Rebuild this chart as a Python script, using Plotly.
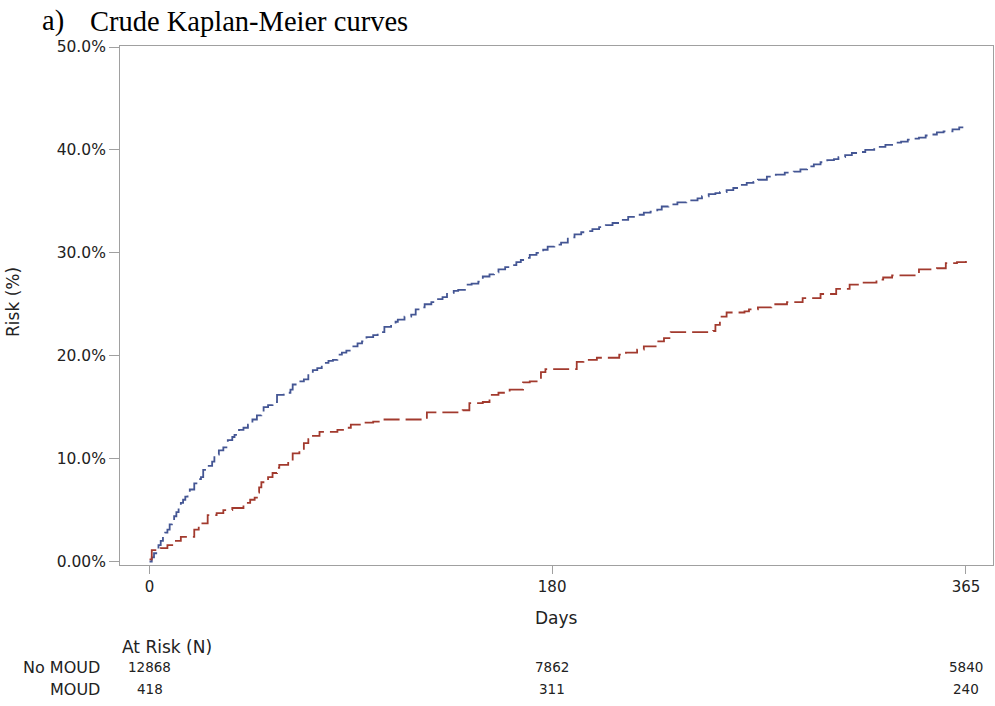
import plotly.graph_objects as go

# Kaplan-Meier cumulative risk (%), step points (day, risk)
no_moud_days = [0, 1, 2, 3, 4, 5, 6, 7, 8, 9, 10, 11, 12, 13, 14, 15, 16, 17, 18, 20, 22, 23, 24, 26, 28,
                29, 31, 33, 35, 37, 38, 40, 42, 44, 46, 48, 50, 51, 53, 55, 57, 60, 63, 64, 67, 69, 71,
                73, 75, 77, 80, 82, 84, 86, 88, 90, 93, 95, 97, 100, 102, 105, 108, 110, 111, 114, 117,
                119, 121, 123, 126, 129, 131, 133, 136, 138, 141, 144, 147, 149, 152, 154, 156, 159, 162,
                164, 166, 168, 170, 173, 176, 178, 181, 184, 187, 190, 193, 195, 198, 201, 204, 207, 210,
                211, 214, 217, 221, 224, 227, 229, 232, 236, 240, 245, 247, 250, 253, 255, 258, 261, 264,
                267, 270, 272, 276, 280, 284, 288, 291, 294, 297, 300, 303, 306, 308, 311, 314, 317, 320,
                324, 326, 329, 332, 336, 339, 341, 344, 347, 350, 352, 355, 359, 362, 365]
no_moud_risk = [0.0, 0.4, 0.8, 1.1, 1.6, 2.0, 2.4, 2.8, 3.1, 3.6, 4.0, 4.4, 4.8, 5.2, 5.7, 6.0, 6.3, 6.7,
                7.0, 7.6, 8.0, 8.2, 8.9, 9.3, 9.7, 10.4, 10.8, 11.1, 11.8, 12.1, 12.3, 12.8, 13.0, 13.3,
                13.8, 14.2, 14.5, 15.0, 15.2, 15.5, 16.2, 16.4, 16.7, 17.2, 17.5, 17.7, 18.3, 18.6, 18.8,
                19.3, 19.5, 19.6, 20.1, 20.3, 20.5, 20.9, 21.2, 21.4, 21.8, 22.0, 22.3, 22.8, 23.0, 23.3,
                23.5, 23.8, 24.0, 24.5, 24.7, 25.0, 25.2, 25.5, 25.7, 26.1, 26.3, 26.4, 26.9, 27.0, 27.2,
                27.7, 27.9, 28.1, 28.4, 28.6, 28.8, 29.1, 29.3, 29.5, 29.8, 30.0, 30.3, 30.6, 30.8, 31.0,
                31.5, 31.8, 32.0, 32.1, 32.3, 32.5, 32.7, 32.9, 33.0, 33.2, 33.5, 33.7, 33.9, 34.0, 34.2,
                34.5, 34.7, 34.9, 35.1, 35.3, 35.5, 35.7, 35.8, 35.9, 36.1, 36.3, 36.6, 36.8, 36.9, 37.1,
                37.4, 37.6, 37.8, 37.9, 38.1, 38.4, 38.6, 38.8, 39.0, 39.1, 39.3, 39.5, 39.7, 39.8, 40.0,
                40.2, 40.3, 40.5, 40.7, 40.8, 41.0, 41.1, 41.2, 41.4, 41.5, 41.7, 41.8, 42.0, 42.2, 42.4]

moud_days = [0, 1, 5, 8, 11, 14, 20, 22, 26, 30, 33, 37, 42, 45, 47, 48, 49, 50, 53, 55, 57, 58, 62, 64,
             67, 69, 71, 72, 76, 84, 88, 90, 96, 100, 103, 124, 140, 143, 149, 152, 156, 161, 167, 170,
             175, 177, 191, 194, 200, 210, 213, 218, 221, 227, 230, 233, 252, 253, 255, 258, 266, 268,
             272, 278, 285, 292, 300, 307, 313, 318, 325, 328, 332, 344, 352, 356, 361, 365]
moud_risk = [0.2, 1.1, 1.3, 1.6, 2.0, 2.4, 3.1, 3.7, 4.5, 4.7, 5.0, 5.2, 5.7, 6.0, 6.2, 6.7, 7.2, 7.7,
             8.2, 8.6, 9.1, 9.4, 9.7, 10.5, 10.8, 11.5, 11.9, 12.2, 12.6, 12.8, 13.0, 13.3, 13.5, 13.6,
             13.8, 14.5, 14.7, 15.4, 15.5, 16.2, 16.4, 16.7, 17.4, 17.5, 18.4, 18.7, 19.4, 19.6, 19.8,
             20.1, 20.3, 20.6, 20.9, 21.4, 21.7, 22.3, 22.4, 23.0, 23.8, 24.2, 24.3, 24.5, 24.7, 25.0,
             25.2, 25.6, 26.0, 26.5, 26.9, 27.1, 27.4, 27.6, 27.8, 28.4, 28.5, 29.0, 29.1, 29.2]

# Axis ticks
x_ticks = [0, 180, 365]
y_ticks = [0, 10, 20, 30, 40, 50]
y_tick_labels = ["0.00%", "10.0%", "20.0%", "30.0%", "40.0%", "50.0%"]

# Number at risk table
risk_groups = ["No MOUD", "MOUD"]
risk_days = [0, 180, 365]
at_risk = {"No MOUD": [12868, 7862, 5840], "MOUD": [418, 311, 240]}

BLUE = "#445694"
RED = "#A23A2E"
AXIS = "#A0A0A0"
TXT = "#222222"
SANS = "DejaVu Sans, Verdana, sans-serif"
SERIF = "Liberation Serif, Times New Roman, serif"

# plot-area geometry in pixels (used for placing the outside-the-axes text)
TOP, BOTTOM, LEFT = 46, 565, 120
PLOT_H = BOTTOM - TOP

fig = go.Figure()
fig.add_trace(go.Scatter(x=no_moud_days, y=no_moud_risk, mode="lines", line_shape="hv",
                         line=dict(color=BLUE, width=1.8, dash="16px,6px"), name="No MOUD"))
fig.add_trace(go.Scatter(x=moud_days, y=moud_risk, mode="lines", line_shape="hv",
                         line=dict(color=RED, width=1.8, dash="16px,6px"), name="MOUD"))

fig.update_layout(
    width=995, height=706,
    margin=dict(l=LEFT, r=2, t=TOP, b=706 - BOTTOM),
    paper_bgcolor="white", plot_bgcolor="white",
    showlegend=False,
    font=dict(family=SANS, color=TXT, size=15),
)
fig.update_xaxes(
    range=[-13.2, 377.1], tickvals=x_ticks, ticks="outside", ticklen=8, tickcolor=AXIS,
    showline=True, linecolor=AXIS, linewidth=1, mirror=True, showgrid=False, zeroline=False,
    tickfont=dict(size=15, family=SANS, color=TXT),
)
fig.update_yaxes(
    range=[-0.34, 50.1], tickvals=y_ticks, ticktext=y_tick_labels, ticks="outside", ticklen=10,
    tickcolor=AXIS, showline=True, linecolor=AXIS, linewidth=1, mirror=True, showgrid=False,
    zeroline=False, tickfont=dict(size=15.5, family=SANS, color=TXT),
)

def below(px):
    """shift (in px) from the plot bottom edge to a page row"""
    return BOTTOM - px

# Axis titles
fig.add_annotation(xref="x", yref="paper", x=182, y=0, text="Days", showarrow=False,
                   xanchor="center", yanchor="middle", yshift=below(618),
                   font=dict(size=17, family=SANS, color=TXT))
fig.add_annotation(xref="paper", yref="paper", x=0, y=(BOTTOM - 302) / PLOT_H, text="Risk (%)",
                   showarrow=False, textangle=-90, xanchor="center", yanchor="middle",
                   xshift=13 - LEFT, font=dict(size=17, family=SANS, color=TXT))

# Panel title
fig.add_annotation(xref="paper", yref="paper", x=0, y=1, text="a)", showarrow=False,
                   xanchor="left", yanchor="middle", xshift=40 - LEFT, yshift=TOP - 21,
                   font=dict(family=SERIF, size=28.5, color="#000"))
fig.add_annotation(xref="paper", yref="paper", x=0, y=1, text="Crude Kaplan-Meier curves",
                   showarrow=False, xanchor="left", yanchor="middle", xshift=88 - LEFT,
                   yshift=TOP - 21, font=dict(family=SERIF, size=28.5, color="#000"))

# At-risk table
fig.add_annotation(xref="paper", yref="paper", x=0, y=0, text="At Risk (N)", showarrow=False,
                   xanchor="left", yanchor="middle", xshift=0, yshift=below(647),
                   font=dict(size=17, family=SANS, color=TXT))
row_y = {"No MOUD": 667, "MOUD": 689}
for g in risk_groups:
    fig.add_annotation(xref="paper", yref="paper", x=0, y=0, text=g, showarrow=False,
                       xanchor="right", yanchor="middle", xshift=102 - LEFT, yshift=below(row_y[g]),
                       font=dict(size=16, family=SANS, color=TXT))
    for d, n in zip(risk_days, at_risk[g]):
        fig.add_annotation(xref="x", yref="paper", x=d, y=0, text=str(n), showarrow=False,
                           xanchor="center", yanchor="middle", yshift=below(row_y[g]),
                           font=dict(size=13.5, family=SANS, color=TXT))

fig.write_html("out.html")
